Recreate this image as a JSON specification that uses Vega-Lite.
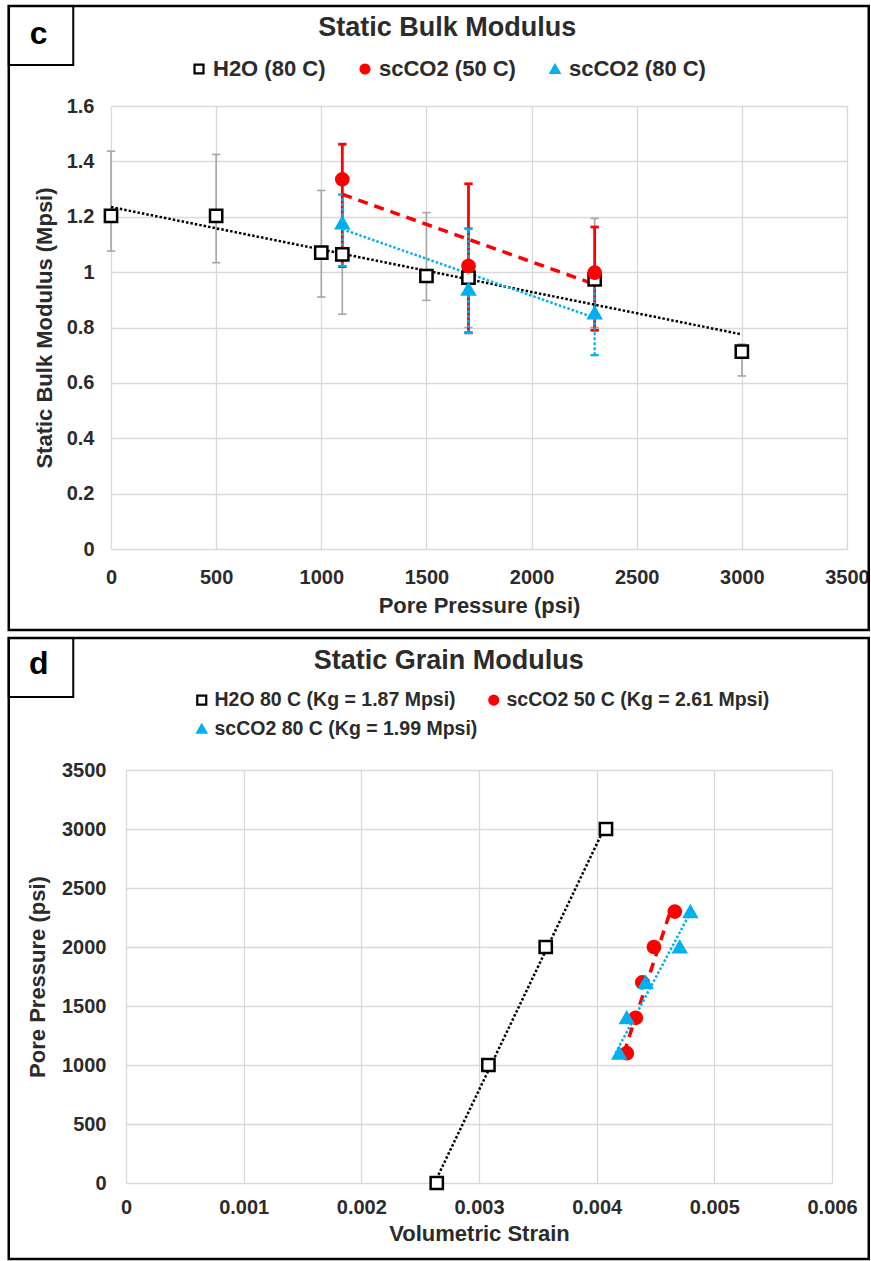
{
  "$schema": "https://vega.github.io/schema/vega-lite/v6.json",
  "background": "white",
  "padding": {"left": 7, "top": 4, "right": 0, "bottom": 0},
  "config": {
    "view": {"stroke": null},
    "font": "Liberation Sans",
    "axis": {
      "domain": false, "ticks": false, "grid": true, "gridColor": "#d9d9d9", "gridWidth": 1.3,
      "labelFont": "Liberation Sans", "labelFontWeight": "bold", "labelFontSize": 20, "labelColor": "#2b2b2b",
      "labelFlush": false, "labelOverlap": false,
      "titleFont": "Liberation Sans", "titleFontWeight": "bold", "titleFontSize": 22, "titleColor": "#2b2b2b"
    },
    "legend": {
      "labelFont": "Liberation Sans", "labelFontWeight": "bold", "labelFontSize": 21, "labelColor": "#2b2b2b", "labelLimit": 0,
      "symbolSize": 80, "symbolStrokeWidth": 2.2, "padding": 0, "labelOffset": 3, "columnPadding": 28, "rowPadding": 8
    }
  },
  "datasets": {
    "bulk": [
      {"fluid": "H2O (80 C)", "p": 0, "k": 1.203, "lo": 1.076, "hi": 1.437},
      {"fluid": "H2O (80 C)", "p": 500, "k": 1.203, "lo": 1.034, "hi": 1.425},
      {"fluid": "H2O (80 C)", "p": 1000, "k": 1.070, "lo": 0.910, "hi": 1.295},
      {"fluid": "H2O (80 C)", "p": 1100, "k": 1.064, "lo": 0.848, "hi": 1.28},
      {"fluid": "H2O (80 C)", "p": 1500, "k": 0.986, "lo": 0.898, "hi": 1.215},
      {"fluid": "H2O (80 C)", "p": 1700, "k": 0.980, "lo": 0.80, "hi": 1.16},
      {"fluid": "H2O (80 C)", "p": 2300, "k": 0.974, "lo": 0.80, "hi": 1.194},
      {"fluid": "H2O (80 C)", "p": 3000, "k": 0.713, "lo": 0.625, "hi": 0.740},
      {"fluid": "scCO2 (50 C)", "p": 1100, "k": 1.335, "lo": 1.02, "hi": 1.462},
      {"fluid": "scCO2 (50 C)", "p": 1700, "k": 1.022, "lo": 0.781, "hi": 1.319},
      {"fluid": "scCO2 (50 C)", "p": 2300, "k": 0.998, "lo": 0.790, "hi": 1.163},
      {"fluid": "scCO2 (80 C)", "p": 1100, "k": 1.178, "lo": 1.022, "hi": 1.28},
      {"fluid": "scCO2 (80 C)", "p": 1700, "k": 0.938, "lo": 0.78, "hi": 1.156},
      {"fluid": "scCO2 (80 C)", "p": 2300, "k": 0.853, "lo": 0.70, "hi": 1.0}
    ],
    "bulkTrend": [
      {"fluid": "H2O (80 C)", "p": 0, "k": 1.235},
      {"fluid": "H2O (80 C)", "p": 3000, "k": 0.775},
      {"fluid": "scCO2 (50 C)", "p": 1100, "k": 1.281},
      {"fluid": "scCO2 (50 C)", "p": 2300, "k": 0.956},
      {"fluid": "scCO2 (80 C)", "p": 1100, "k": 1.155},
      {"fluid": "scCO2 (80 C)", "p": 2300, "k": 0.835}
    ],
    "grain": [
      {"fluid": "H2O 80 C (Kg = 1.87 Mpsi)", "strain": 0.002641, "p": 0},
      {"fluid": "H2O 80 C (Kg = 1.87 Mpsi)", "strain": 0.00308, "p": 1000},
      {"fluid": "H2O 80 C (Kg = 1.87 Mpsi)", "strain": 0.003567, "p": 2000},
      {"fluid": "H2O 80 C (Kg = 1.87 Mpsi)", "strain": 0.004079, "p": 3000},
      {"fluid": "scCO2 50 C (Kg = 2.61 Mpsi)", "strain": 0.004256, "p": 1100},
      {"fluid": "scCO2 50 C (Kg = 2.61 Mpsi)", "strain": 0.004332, "p": 1400},
      {"fluid": "scCO2 50 C (Kg = 2.61 Mpsi)", "strain": 0.004388, "p": 1700},
      {"fluid": "scCO2 50 C (Kg = 2.61 Mpsi)", "strain": 0.004487, "p": 2000},
      {"fluid": "scCO2 50 C (Kg = 2.61 Mpsi)", "strain": 0.004664, "p": 2300},
      {"fluid": "scCO2 80 C (Kg = 1.99 Mpsi)", "strain": 0.004192, "p": 1100},
      {"fluid": "scCO2 80 C (Kg = 1.99 Mpsi)", "strain": 0.004256, "p": 1400},
      {"fluid": "scCO2 80 C (Kg = 1.99 Mpsi)", "strain": 0.004416, "p": 1700},
      {"fluid": "scCO2 80 C (Kg = 1.99 Mpsi)", "strain": 0.004706, "p": 2000},
      {"fluid": "scCO2 80 C (Kg = 1.99 Mpsi)", "strain": 0.004796, "p": 2300}
    ],
    "grainTrend": [
      {"fluid": "H2O 80 C (Kg = 1.87 Mpsi)", "strain": 0.002622, "p": 0},
      {"fluid": "H2O 80 C (Kg = 1.87 Mpsi)", "strain": 0.004062, "p": 3000},
      {"fluid": "scCO2 50 C (Kg = 2.61 Mpsi)", "strain": 0.004231, "p": 1100},
      {"fluid": "scCO2 50 C (Kg = 2.61 Mpsi)", "strain": 0.004625, "p": 2300},
      {"fluid": "scCO2 80 C (Kg = 1.99 Mpsi)", "strain": 0.004160, "p": 1100},
      {"fluid": "scCO2 80 C (Kg = 1.99 Mpsi)", "strain": 0.004800, "p": 2300}
    ]
  },
  "vconcat": [
    {
      "width": 736,
      "height": 443,
      "layer": [
        {
          "data": {"values": [{}]},
          "mark": {"type": "rect", "fill": "transparent", "stroke": "black", "strokeWidth": 2.5},
          "encoding": {
            "x": {"datum": -486.2, "type": "quantitative"}, "x2": {"datum": 3603.4},
            "y": {"datum": 1.961, "type": "quantitative"}, "y2": {"datum": -0.2925}
          }
        },
        {
          "data": {"values": [{}]},
          "mark": {"type": "rect", "fill": "transparent", "stroke": "black", "strokeWidth": 2},
          "encoding": {
            "x": {"datum": -486.2, "type": "quantitative"}, "x2": {"datum": -179.5},
            "y": {"datum": 1.961, "type": "quantitative"}, "y2": {"datum": 1.748}
          }
        },
        {
          "data": {"values": [{}]},
          "mark": {"type": "text", "text": "c", "font": "Liberation Sans", "fontWeight": "bold", "fontSize": 32, "color": "black", "align": "center", "baseline": "middle"},
          "encoding": {
            "x": {"datum": -343.6, "type": "quantitative"},
            "y": {"datum": 1.860, "type": "quantitative"}
          }
        },
        {
          "data": {"values": [{}]},
          "mark": {"type": "text", "text": "Static Bulk Modulus", "font": "Liberation Sans", "fontWeight": "bold", "fontSize": 27, "color": "#2b2b2b", "align": "center", "baseline": "middle"},
          "encoding": {
            "x": {"datum": 1599.0, "type": "quantitative"},
            "y": {"datum": 1.8815, "type": "quantitative"}
          }
        },
        {
          "data": {"name": "bulk"},
          "transform": [{"filter": "datum.fluid === 'H2O (80 C)'"}],
          "mark": {"type": "rule", "color": "#a6a6a6", "strokeWidth": 1.6},
          "encoding": {
            "x": {"field": "p", "type": "quantitative", "title": "Pore Pressure (psi)"},
            "y": {"field": "lo", "type": "quantitative", "title": "Static Bulk Modulus (Mpsi)"},
            "y2": {"field": "hi"}
          }
        },
        {
          "data": {"name": "bulk"},
          "transform": [{"filter": "datum.fluid === 'H2O (80 C)'"}, {"fold": ["lo", "hi"], "as": ["end", "v"]}],
          "mark": {"type": "point", "shape": "stroke", "size": 70, "filled": false, "opacity": 1, "color": "#a6a6a6", "strokeWidth": 1.6},
          "encoding": {
            "x": {"field": "p", "type": "quantitative", "title": "Pore Pressure (psi)"},
            "y": {"field": "v", "type": "quantitative", "title": "Static Bulk Modulus (Mpsi)"}
          }
        },
        {
          "data": {"name": "bulk"},
          "transform": [{"filter": "datum.fluid === 'scCO2 (50 C)'"}],
          "mark": {"type": "rule", "color": "#ff0000", "strokeWidth": 2.8},
          "encoding": {
            "x": {"field": "p", "type": "quantitative", "title": "Pore Pressure (psi)"},
            "y": {"field": "lo", "type": "quantitative", "title": "Static Bulk Modulus (Mpsi)"},
            "y2": {"field": "hi"}
          }
        },
        {
          "data": {"name": "bulk"},
          "transform": [{"filter": "datum.fluid === 'scCO2 (50 C)'"}, {"fold": ["lo", "hi"], "as": ["end", "v"]}],
          "mark": {"type": "point", "shape": "stroke", "size": 70, "filled": false, "opacity": 1, "color": "#ff0000", "strokeWidth": 2.8},
          "encoding": {
            "x": {"field": "p", "type": "quantitative", "title": "Pore Pressure (psi)"},
            "y": {"field": "v", "type": "quantitative", "title": "Static Bulk Modulus (Mpsi)"}
          }
        },
        {
          "data": {"name": "bulk"},
          "transform": [{"filter": "datum.fluid === 'scCO2 (80 C)'"}],
          "mark": {"type": "rule", "color": "#00b0f0", "strokeWidth": 2.2, "strokeDash": [3, 2]},
          "encoding": {
            "x": {"field": "p", "type": "quantitative", "title": "Pore Pressure (psi)"},
            "y": {"field": "lo", "type": "quantitative", "title": "Static Bulk Modulus (Mpsi)"},
            "y2": {"field": "hi"}
          }
        },
        {
          "data": {"name": "bulk"},
          "transform": [{"filter": "datum.fluid === 'scCO2 (80 C)'"}, {"fold": ["lo", "hi"], "as": ["end", "v"]}],
          "mark": {"type": "point", "shape": "stroke", "size": 70, "filled": false, "opacity": 1, "color": "#00b0f0", "strokeWidth": 2.2},
          "encoding": {
            "x": {"field": "p", "type": "quantitative", "title": "Pore Pressure (psi)"},
            "y": {"field": "v", "type": "quantitative", "title": "Static Bulk Modulus (Mpsi)"}
          }
        },
        {
          "data": {"name": "bulkTrend"},
          "transform": [{"filter": "datum.fluid === 'H2O (80 C)'"}],
          "mark": {"type": "line", "color": "black", "strokeWidth": 2.5, "strokeDash": [2.5, 2]},
          "encoding": {
            "x": {"field": "p", "type": "quantitative", "title": "Pore Pressure (psi)"},
            "y": {"field": "k", "type": "quantitative", "title": "Static Bulk Modulus (Mpsi)"}
          }
        },
        {
          "data": {"name": "bulkTrend"},
          "transform": [{"filter": "datum.fluid === 'scCO2 (50 C)'"}],
          "mark": {"type": "line", "color": "#ff0000", "strokeWidth": 3.5, "strokeDash": [10, 7]},
          "encoding": {
            "x": {"field": "p", "type": "quantitative", "title": "Pore Pressure (psi)"},
            "y": {"field": "k", "type": "quantitative", "title": "Static Bulk Modulus (Mpsi)"}
          }
        },
        {
          "data": {"name": "bulkTrend"},
          "transform": [{"filter": "datum.fluid === 'scCO2 (80 C)'"}],
          "mark": {"type": "line", "color": "#00b0f0", "strokeWidth": 2.5, "strokeDash": [2.5, 2]},
          "encoding": {
            "x": {"field": "p", "type": "quantitative", "title": "Pore Pressure (psi)"},
            "y": {"field": "k", "type": "quantitative", "title": "Static Bulk Modulus (Mpsi)"}
          }
        },
        {
          "data": {"name": "bulk"},
          "mark": {"type": "point", "filled": true, "size": 150, "strokeWidth": 2.5, "opacity": 1},
          "encoding": {
            "x": {"field": "p", "type": "quantitative", "title": "Pore Pressure (psi)",
                  "scale": {"domain": [0, 3500], "nice": false},
                  "axis": {"values": [0, 500, 1000, 1500, 2000, 2500, 3000, 3500], "format": "d", "labelPadding": 18, "titlePadding": 8}},
            "y": {"field": "k", "type": "quantitative", "title": "Static Bulk Modulus (Mpsi)",
                  "scale": {"domain": [0, 1.6], "nice": false},
                  "axis": {"values": [0, 0.2, 0.4, 0.6, 0.8, 1, 1.2, 1.4, 1.6], "format": "~g", "labelPadding": 17, "titlePadding": 10}},
            "shape": {"field": "fluid", "type": "nominal",
                      "scale": {"domain": ["H2O (80 C)", "scCO2 (50 C)", "scCO2 (80 C)"], "range": ["square", "circle", "triangle-up"]},
                      "legend": {"title": null, "orient": "none", "legendX": 77, "legendY": -48, "direction": "horizontal", "columns": 3, "labelFontSize": 22}},
            "fill": {"field": "fluid", "type": "nominal",
                     "scale": {"domain": ["H2O (80 C)", "scCO2 (50 C)", "scCO2 (80 C)"], "range": ["white", "#ff0000", "#00b0f0"]},
                     "legend": {"title": null, "orient": "none", "legendX": 77, "legendY": -48, "direction": "horizontal", "columns": 3, "labelFontSize": 22}},
            "stroke": {"field": "fluid", "type": "nominal",
                       "scale": {"domain": ["H2O (80 C)", "scCO2 (50 C)", "scCO2 (80 C)"], "range": ["black", "#ff0000", "#00b0f0"]},
                       "legend": {"title": null, "orient": "none", "legendX": 77, "legendY": -48, "direction": "horizontal", "columns": 3, "labelFontSize": 22}}
          }
        }
      ]
    },
    {
      "width": 706,
      "height": 413,
      "layer": [
        {
          "data": {"values": [{}]},
          "mark": {"type": "rect", "fill": "transparent", "stroke": "black", "strokeWidth": 2.5},
          "encoding": {
            "x": {"datum": -0.0009965, "type": "quantitative"}, "x2": {"datum": 0.0063123},
            "y": {"datum": 4619, "type": "quantitative"}, "y2": {"datum": -644}
          }
        },
        {
          "data": {"values": [{}]},
          "mark": {"type": "rect", "fill": "transparent", "stroke": "black", "strokeWidth": 2},
          "encoding": {
            "x": {"datum": -0.0009965, "type": "quantitative"}, "x2": {"datum": -0.0004483},
            "y": {"datum": 4619, "type": "quantitative"}, "y2": {"datum": 4119}
          }
        },
        {
          "data": {"values": [{}]},
          "mark": {"type": "text", "text": "d", "font": "Liberation Sans", "fontWeight": "bold", "fontSize": 32, "color": "black", "align": "center", "baseline": "middle"},
          "encoding": {
            "x": {"datum": -0.0007415, "type": "quantitative"},
            "y": {"datum": 4398, "type": "quantitative"}
          }
        },
        {
          "data": {"values": [{}]},
          "mark": {"type": "text", "text": "Static Grain Modulus", "font": "Liberation Sans", "fontWeight": "bold", "fontSize": 27, "color": "#2b2b2b", "align": "center", "baseline": "middle"},
          "encoding": {
            "x": {"datum": 0.0027429, "type": "quantitative"},
            "y": {"datum": 4424, "type": "quantitative"}
          }
        },
        {
          "data": {"name": "grainTrend"},
          "transform": [{"filter": "datum.fluid === 'H2O 80 C (Kg = 1.87 Mpsi)'"}],
          "mark": {"type": "line", "color": "black", "strokeWidth": 2.5, "strokeDash": [2.5, 2]},
          "encoding": {
            "x": {"field": "strain", "type": "quantitative", "title": "Volumetric Strain"},
            "y": {"field": "p", "type": "quantitative", "title": "Pore Pressure (psi)"}
          }
        },
        {
          "data": {"name": "grainTrend"},
          "transform": [{"filter": "datum.fluid === 'scCO2 50 C (Kg = 2.61 Mpsi)'"}],
          "mark": {"type": "line", "color": "#ff0000", "strokeWidth": 3.5, "strokeDash": [10, 7]},
          "encoding": {
            "x": {"field": "strain", "type": "quantitative", "title": "Volumetric Strain"},
            "y": {"field": "p", "type": "quantitative", "title": "Pore Pressure (psi)"}
          }
        },
        {
          "data": {"name": "grainTrend"},
          "transform": [{"filter": "datum.fluid === 'scCO2 80 C (Kg = 1.99 Mpsi)'"}],
          "mark": {"type": "line", "color": "#00b0f0", "strokeWidth": 2.5, "strokeDash": [2.5, 2]},
          "encoding": {
            "x": {"field": "strain", "type": "quantitative", "title": "Volumetric Strain"},
            "y": {"field": "p", "type": "quantitative", "title": "Pore Pressure (psi)"}
          }
        },
        {
          "data": {"name": "grain"},
          "mark": {"type": "point", "filled": true, "size": 150, "strokeWidth": 2.5, "opacity": 1},
          "encoding": {
            "x": {"field": "strain", "type": "quantitative", "title": "Volumetric Strain",
                  "scale": {"domain": [0, 0.006], "nice": false},
                  "axis": {"values": [0, 0.001, 0.002, 0.003, 0.004, 0.005, 0.006], "format": "~g", "labelPadding": 14, "titlePadding": 6}},
            "y": {"field": "p", "type": "quantitative", "title": "Pore Pressure (psi)",
                  "scale": {"domain": [0, 3500], "nice": false},
                  "axis": {"values": [0, 500, 1000, 1500, 2000, 2500, 3000, 3500], "format": "d", "labelPadding": 20, "titlePadding": 12}},
            "shape": {"field": "fluid", "type": "nominal",
                      "scale": {"domain": ["H2O 80 C (Kg = 1.87 Mpsi)", "scCO2 50 C (Kg = 2.61 Mpsi)", "scCO2 80 C (Kg = 1.99 Mpsi)"], "range": ["square", "circle", "triangle-up"]},
                      "legend": {"title": null, "orient": "none", "legendX": 66, "legendY": -80, "direction": "horizontal", "columns": 2, "labelFontSize": 19.5, "columnPadding": 6}},
            "fill": {"field": "fluid", "type": "nominal",
                     "scale": {"domain": ["H2O 80 C (Kg = 1.87 Mpsi)", "scCO2 50 C (Kg = 2.61 Mpsi)", "scCO2 80 C (Kg = 1.99 Mpsi)"], "range": ["white", "#ff0000", "#00b0f0"]},
                     "legend": {"title": null, "orient": "none", "legendX": 66, "legendY": -80, "direction": "horizontal", "columns": 2, "labelFontSize": 19.5, "columnPadding": 6}},
            "stroke": {"field": "fluid", "type": "nominal",
                       "scale": {"domain": ["H2O 80 C (Kg = 1.87 Mpsi)", "scCO2 50 C (Kg = 2.61 Mpsi)", "scCO2 80 C (Kg = 1.99 Mpsi)"], "range": ["black", "#ff0000", "#00b0f0"]},
                       "legend": {"title": null, "orient": "none", "legendX": 66, "legendY": -80, "direction": "horizontal", "columns": 2, "labelFontSize": 19.5, "columnPadding": 6}}
          }
        }
      ]
    }
  ],
  "spacing": 221,
  "bounds": "flush",
  "center": true,
  "resolve": {
    "scale": {"x": "independent", "y": "independent", "fill": "independent", "stroke": "independent", "shape": "independent"},
    "legend": {"fill": "independent", "stroke": "independent", "shape": "independent"}
  }
}
